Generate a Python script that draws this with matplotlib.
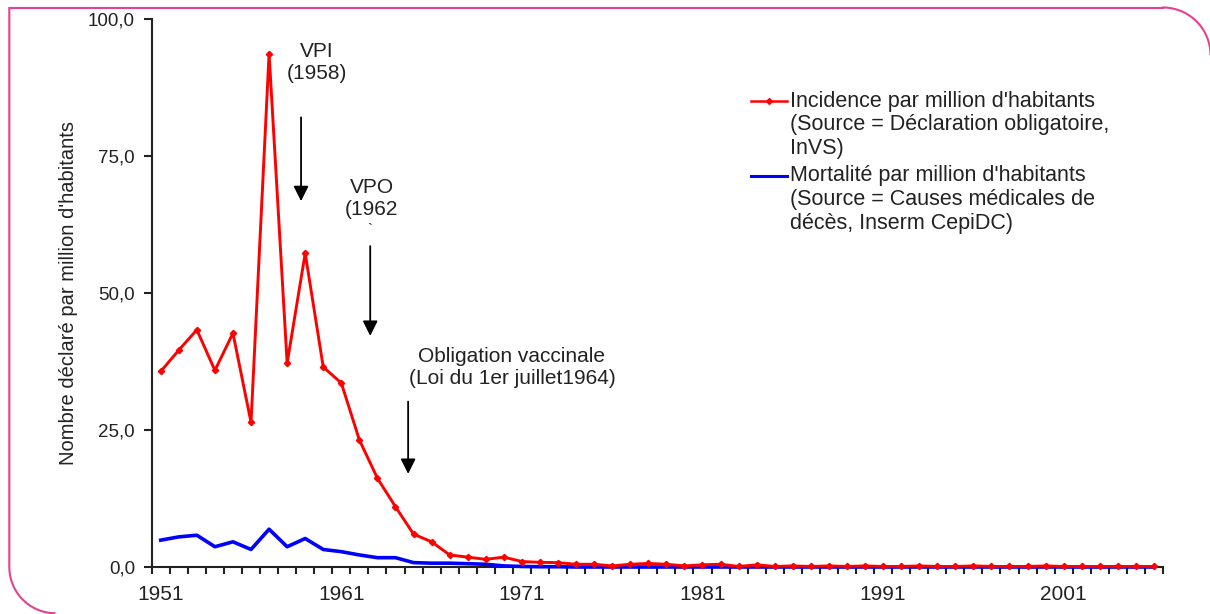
import numpy as np
import matplotlib
matplotlib.use("Agg")
import matplotlib.pyplot as plt
from matplotlib.lines import Line2D
from matplotlib.path import Path
from matplotlib.patches import PathPatch

plt.rcParams['font.family'] = ['Liberation Sans', 'DejaVu Sans']

# ---- data ----
years = list(range(1951, 2007))
incidence = [35.7, 39.6, 43.3, 35.9, 42.7, 26.4, 93.7, 37.2, 57.3, 36.5,
             33.6, 23.2, 16.2, 11.0, 6.0, 4.6, 2.2, 1.8, 1.4, 1.8,
             1.0, 0.85, 0.8, 0.5, 0.5, 0.2, 0.5, 0.65, 0.5, 0.2,
             0.4, 0.5, 0.1, 0.4, 0.1, 0.2, 0.1, 0.2, 0.1, 0.2,
             0.1, 0.1, 0.2, 0.1, 0.1, 0.2, 0.1, 0.1, 0.1, 0.2,
             0.1, 0.1, 0.1, 0.1, 0.1, 0.1]
mortalite = [4.9, 5.5, 5.8, 3.7, 4.6, 3.2, 6.9, 3.7, 5.2, 3.2,
             2.8, 2.2, 1.7, 1.7, 0.8, 0.7, 0.7, 0.6, 0.5, 0.2,
             0.1, 0.05, 0.05, 0.0, 0.0, 0.0, 0.0, 0.0, 0.0, 0.0,
             0.0, 0.0, 0.0, 0.0, 0.0, 0.0, 0.0, 0.0, 0.0, 0.0,
             0.0, 0.0, 0.0, 0.0, 0.0, 0.0, 0.0, 0.0, 0.0, 0.0,
             0.0, 0.0, 0.0, 0.0, 0.0, 0.0]

xtick_years = [1951, 1961, 1971, 1981, 1991, 2001]
ytick_values = [0, 25, 50, 75, 100]
ytick_labels = ["0,0", "25,0", "50,0", "75,0", "100,0"]
ylabel = "Nombre déclaré par million d'habitants"

legend_lines = [
    ["Incidence par million d'habitants", "(Source = Déclaration obligatoire,", "InVS)"],
    ["Mortalité par million d'habitants", "(Source = Causes médicales de", "décès, Inserm CepiDC)"],
]
legend_colors = ["#ff0000", "#0000ff"]

# annotations: text, text position (year, value), arrow start, arrow tip
annotations = [
    ("VPI\n(1958)", (1959.65, 92.1), (1958.77, 82.1), (1958.77, 66.8)),
    ("VPO\n(1962", (1962.68, 67.3), (1962.6, 58.6), (1962.6, 42.2)),
    ("Obligation vaccinale\n(Loi du 1er juillet1964)", (1970.45, 36.4), (1964.7, 30.2), (1964.7, 17.0)),
]

W, H = 1210, 614
fig = plt.figure(figsize=(W / 100, H / 100), dpi=100)
fig.patch.set_facecolor("white")


def px(x, y):
    return x / W, 1 - y / H


ax = fig.add_axes([151.7 / W, (H - 567) / H, (1163 - 151.7) / W, (567 - 19.3) / H])
ax.set_facecolor("none")

ax.plot(years, mortalite, color="#0000ff", lw=2.6, zorder=3, clip_on=False,
        solid_joinstyle="round")
ax.plot(years, incidence, color="#ff0000", lw=2.1, marker="D", ms=3.2,
        zorder=4, clip_on=False)

ax.set_xlim(1950.5, 2006.5)
ax.set_ylim(0, 100)

for s in ["top", "right"]:
    ax.spines[s].set_visible(False)
for s in ["left", "bottom"]:
    ax.spines[s].set_linewidth(1.5)
    ax.spines[s].set_color("#222222")

ax.set_xticks(xtick_years)
ax.set_xticklabels([str(y) for y in xtick_years])
ax.set_xticks(np.arange(1950.5, 2007, 1), minor=True)
ax.tick_params(axis="x", which="major", length=0, pad=13, labelsize=15, labelcolor="#222222")
ax.tick_params(axis="x", which="minor", length=5, width=1.5, direction="out", color="#222222")

ax.set_yticks(ytick_values)
ax.set_yticklabels(ytick_labels)
ax.tick_params(axis="y", which="major", length=6, width=1.5, pad=6, labelsize=13.5,
               labelcolor="#222222", color="#222222")

ax.set_ylabel(ylabel, fontsize=14.5, color="#222222")
ax.yaxis.set_label_coords(-0.073, 0.5)

for text, tpos, start, tip in annotations:
    ax.text(tpos[0], tpos[1], text, ha="center", va="center", fontsize=15,
            color="#222222", linespacing=1.2)
    ax.annotate("", xy=tip, xytext=start,
                arrowprops=dict(arrowstyle="-|>,head_length=0.9,head_width=0.45",
                                color="black", lw=1.3, shrinkA=0, shrinkB=0,
                                mutation_scale=10))
# stray tick under "(1962"
ax.text(1962.6, 61.5, "`", ha="center", va="center", fontsize=11, color="#222222")

# legend drawn by hand (handles sit on the first line of each label)
leg_y0 = [101, 176]
for block, color, y0 in zip(legend_lines, legend_colors, leg_y0):
    x0, y = px(751, y0)
    x1, _ = px(787, y0)
    fig.add_artist(Line2D([x0, x1], [y, y], color=color, lw=2.2 if color == "#0000ff" else 1.8,
                          transform=fig.transFigure))
    if color == "#ff0000":
        fig.add_artist(Line2D([(x0 + x1) / 2], [y], color=color, marker="D", ms=3,
                              transform=fig.transFigure))
    for i, line in enumerate(block):
        tx, ty = px(790, y0 + 23.7 * i)
        fig.text(tx, ty, line, ha="left", va="center", fontsize=15.5, color="#222222")

# pink rounded frame (rounded top-right and bottom-left corners)
verts = []
a = np.linspace(np.pi, np.pi / 2, 20)
cx, cy, r = 55.6, 567, 46.3
verts += [(cx + r * np.cos(t), cy + r * np.sin(t)) for t in a[::-1]]
verts += [(9.3, 8), (1163, 8)]
cx, cy, r = 1163, 55, 47.5
a = np.linspace(-np.pi / 2, 0, 20)
verts += [(cx + r * np.cos(t), cy + r * np.sin(t)) for t in a]
verts = [px(x, y) for x, y in verts]
frame = PathPatch(Path(verts), fill=False, edgecolor="#e8408f", lw=1.5,
                  transform=fig.transFigure)
fig.add_artist(frame)

fig.savefig("out.png", dpi=100)
